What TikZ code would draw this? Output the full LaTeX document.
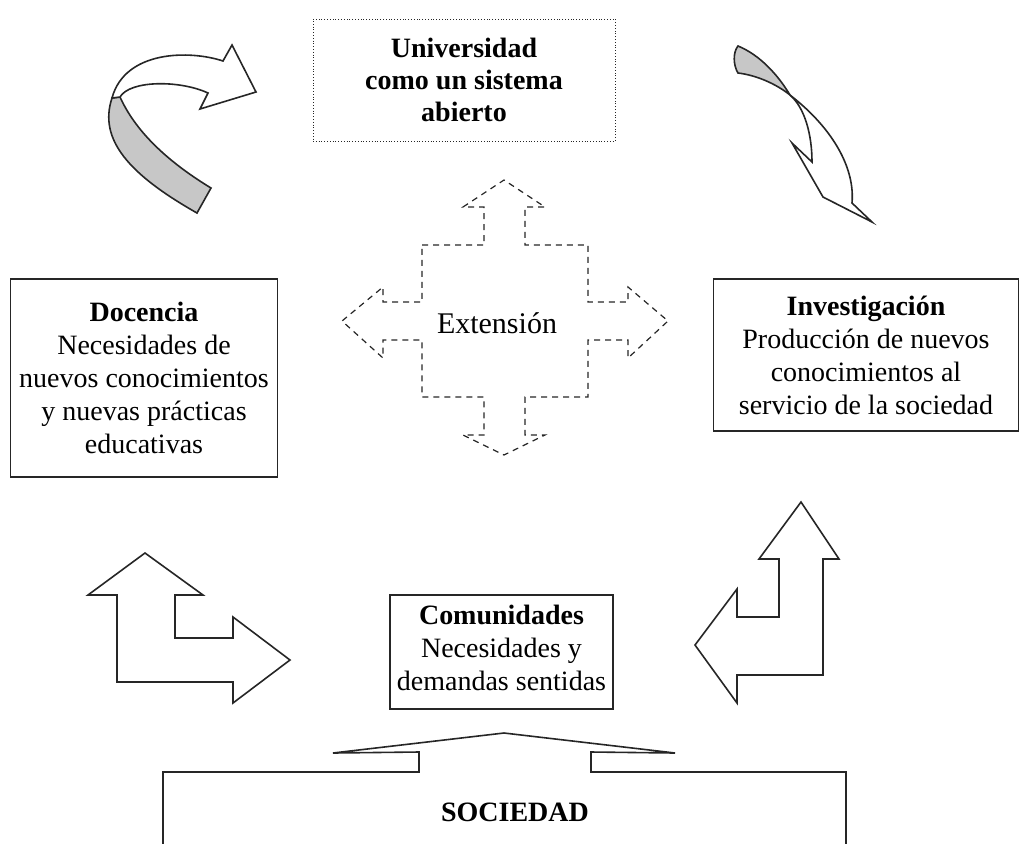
\documentclass[tikz,border=0pt]{standalone}
\usepackage{fontspec}
\setmainfont{Liberation Serif}
\usepackage{xcolor}
\usepackage{tikz}
\usetikzlibrary{calc}
\colorlet{linea}{black!85}
\colorlet{cinta}{black!22}
\tikzstyle{caja}=[draw=linea,thick,align=center,inner sep=0pt]
\tikzstyle{texto}=[align=center,font=\fontsize{14}{16.5}\selectfont]
\tikzstyle{hueca}=[draw=linea,thick,fill=white,line join=miter]
\tikzstyle{gris}=[draw=linea,thick,fill=cinta,line join=miter]
\tikzstyle{rayada}=[draw=linea,line width=0.6pt,dash pattern=on 3pt off 2.5pt]

\begin{document}
\begin{tikzpicture}[x=0.5pt,y=-0.5pt]
\useasboundingbox (0,0) rectangle (1030,843);
% cajas
\node[caja,thin,densely dotted,minimum width=151pt,minimum height=61pt,font=\bfseries\fontsize{14}{16}\selectfont] (universidad) at (464,80)%
{Universidad\\como un sistema\\abierto};
\node[caja,texto,minimum width=133.5pt,minimum height=99pt] (docencia) at (144,378)%
{\textbf{Docencia}\\Necesidades de\\nuevos conocimientos\\y nuevas prácticas\\educativas};
\node[caja,texto,minimum width=152.5pt,minimum height=76pt] (investigacion) at (866,355)%
{\textbf{Investigación}\\Producción de nuevos\\conocimientos al\\servicio de la sociedad};
\node[caja,minimum width=111.5pt,minimum height=57pt] (comunidades) at (501.5,652) {};
\node[texto,anchor=north] (comtxt) at ([yshift=-2pt]comunidades.north)%
{\textbf{Comunidades}\\Necesidades y\\demandas sentidas};
\node[font=\bfseries\fontsize{14}{16}\selectfont] (sociedad) at (515,812) {SOCIEDAD};
\node[font=\fontsize{15}{18}\selectfont] (extension) at (497,323) {Extensión};
% cruz de extension
\draw[rayada] (422,245) -- (484,245) -- (484,207) -- (463,207) -- (504,180) -- (545,207) -- (525,207)
  -- (525,245) -- (588,245) -- (588,302) -- (628,302) -- (628,287) -- (668,321) -- (628,358)
  -- (628,340) -- (588,340) -- (588,397) -- (525,397) -- (525,435) -- (545,435) -- (504,455)
  -- (463,435) -- (484,435) -- (484,397) -- (422,397) -- (422,340) -- (383,340) -- (383,358)
  -- (342,321) -- (383,287) -- (383,302) -- (422,302) -- cycle;
% flechas curvas
\draw[gris] (112,98) .. controls (98,140) and (130,175) .. (197,213) -- (211,188)
  .. controls (165,160) and (135,130) .. (120,97) -- cycle;
\draw[hueca] (112,98) .. controls (125,50) and (190,50) .. (223,61) -- (232,45) -- (256,92)
  -- (200,109) -- (208,93) .. controls (180,80) and (130,80) .. (120,97) -- cycle;
\draw[gris] (738,46) .. controls (760,55) and (778,75) .. (790,95)
  .. controls (775,83) and (755,75) .. (738,73) .. controls (733,65) and (733,52) .. (738,46) -- cycle;
\draw[hueca] (790,95) .. controls (805,108) and (812,135) .. (812,162) -- (792,143) -- (823,197)
  -- (872,222) -- (852,203) .. controls (855,170) and (835,130) .. (790,95) -- cycle;
% flechas en L
\draw[hueca] (117,682) -- (117,595) -- (88,595) -- (145,553) -- (203,595) -- (175,595) -- (175,638)
  -- (233,638) -- (233,617) -- (290,660) -- (233,703) -- (233,682) -- cycle;
\draw[hueca] (823,675) -- (823,559) -- (839,559) -- (801,502) -- (759,559) -- (779,559) -- (779,617)
  -- (737,617) -- (737,589) -- (695,645) -- (737,703) -- (737,675) -- cycle;
% sociedad
\draw[linea,thick,line join=miter] (163,850) -- (163,772) -- (419,772) -- (419,752) -- (333,753)
  -- (504,733) -- (675,753) -- (591,752) -- (591,772) -- (846,772) -- (846,850);
\end{tikzpicture}
\end{document}
